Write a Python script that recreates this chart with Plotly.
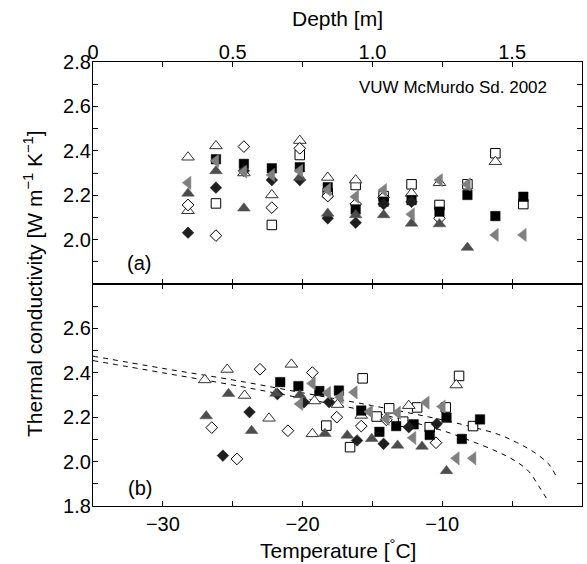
import plotly.graph_objects as go

# ---------------- Panel (a): conductivity vs depth ----------------
a_sq_fill_depth = [0.44, 0.54, 0.64, 0.74, 0.84, 0.94, 1.04, 1.14, 1.24, 1.34, 1.44, 1.54]
a_sq_fill_k     = [2.362, 2.341, 2.321, 2.326, 2.236, 2.136, 2.171, 2.178, 2.126, 2.201, 2.106, 2.193]

a_sq_open_depth = [0.44, 0.64, 0.74, 0.84, 0.94, 1.04, 1.14, 1.24, 1.34, 1.44, 1.54]
a_sq_open_k     = [2.163, 2.066, 2.381, 2.210, 2.246, 2.196, 2.249, 2.156, 2.249, 2.389, 2.160]

a_tri_open_depth = [0.34, 0.34, 0.44, 0.54, 0.64, 0.74, 0.84, 0.94, 1.14, 1.24, 1.44]
a_tri_open_k     = [2.371, 2.130, 2.422, 2.300, 2.201, 2.446, 2.280, 2.268, 2.208, 2.256, 2.351]

a_tri_fill_depth = [0.34, 0.44, 0.54, 0.74, 0.84, 0.94, 1.04, 1.14, 1.24, 1.34]
a_tri_fill_k     = [2.208, 2.309, 2.141, 2.280, 2.118, 2.111, 2.111, 2.073, 2.070, 1.964]

a_dia_fill_depth = [0.34, 0.44, 0.54, 0.64, 0.74, 0.84, 0.94, 1.04, 1.14]
a_dia_fill_k     = [2.031, 2.234, 2.310, 2.268, 2.268, 2.096, 2.076, 2.160, 2.170]

a_dia_open_depth = [0.34, 0.44, 0.54, 0.64, 0.74, 0.84, 0.94, 1.04, 1.24]
a_dia_open_k     = [2.156, 2.018, 2.419, 2.144, 2.411, 2.196, 2.160, 2.190, 2.096]

a_left_depth = [0.34, 0.44, 0.54, 0.64, 0.74, 0.84, 0.94, 1.04, 1.14, 1.24, 1.34, 1.44, 1.54]
a_left_k     = [2.256, 2.355, 2.306, 2.291, 2.310, 2.225, 2.193, 2.223, 2.114, 2.268, 2.249, 2.021, 2.021]

# ---------------- Panel (b): conductivity vs temperature ----------------
b_sq_fill_T = [-21.6, -20.3, -18.8, -17.4, -15.8, -14.5, -13.3, -12.05, -10.9, -9.7, -8.6, -7.3]
b_sq_fill_k = [2.358, 2.340, 2.318, 2.320, 2.230, 2.134, 2.160, 2.168, 2.120, 2.198, 2.102, 2.190]

b_sq_open_T = [-18.3, -16.6, -15.7, -14.7, -13.8, -12.8, -11.8, -10.9, -9.75, -8.8, -7.8]
b_sq_open_k = [2.162, 2.065, 2.375, 2.203, 2.240, 2.180, 2.244, 2.155, 2.244, 2.386, 2.160]

b_tri_open_T = [-27.0, -25.4, -24.15, -22.4, -20.8, -19.15, -19.3, -17.5, -15.8, -12.4, -9.0]
b_tri_open_k = [2.368, 2.415, 2.298, 2.195, 2.438, 2.273, 2.125, 2.257, 2.208, 2.252, 2.345]

b_tri_fill_T = [-26.9, -25.3, -23.65, -21.9, -20.2, -18.4, -16.8, -15.05, -13.2, -11.45, -9.7]
b_tri_fill_k = [2.205, 2.306, 2.139, 2.307, 2.300, 2.126, 2.118, 2.103, 2.073, 2.068, 1.958]

b_dia_fill_T = [-25.7, -23.8, -21.8, -19.9, -18.1, -16.1, -14.2, -12.4, -10.4]
b_dia_fill_k = [2.027, 2.223, 2.304, 2.267, 2.268, 2.095, 2.080, 2.155, 2.170]

b_dia_open_T = [-26.5, -24.7, -23.05, -21.05, -19.3, -17.55, -15.8, -14.0, -10.45]
b_dia_open_k = [2.153, 2.012, 2.416, 2.139, 2.401, 2.200, 2.160, 2.188, 2.085]

b_left_T = [-20.2, -19.3, -18.2, -17.3, -16.3, -15.2, -14.0, -13.2, -12.1, -11.15, -10.0, -9.0, -7.8]
b_left_k = [2.260, 2.352, 2.310, 2.290, 2.312, 2.225, 2.192, 2.220, 2.107, 2.266, 2.248, 2.015, 2.015]

# dashed model curves
curve1_T = [-35, -30, -25, -20, -15, -10, -8, -6, -4.7, -3.5, -2.4, -1.9]
curve1_k = [2.475, 2.420, 2.368, 2.310, 2.252, 2.188, 2.158, 2.123, 2.087, 2.045, 1.990, 1.940]
curve2_T = [-35, -30, -25, -20, -15, -10, -8, -6, -4.7, -3.8, -3.1, -2.4]
curve2_k = [2.455, 2.400, 2.345, 2.285, 2.222, 2.140, 2.094, 2.043, 2.000, 1.955, 1.890, 1.820]

# tick labels
temp_ticks = [-30, -20, -10, 0]
temp_text = ["\u221230", "\u221220", "\u221210", "0"]
depth_ticks = [0, 0.5, 1.0, 1.5]
depth_text = ["0", "0.5", "1.0", "1.5"]
k_ticks_a = [2.0, 2.2, 2.4, 2.6, 2.8]
k_ticks_b = [1.8, 2.0, 2.2, 2.4, 2.6]
k_text_a = ["2.0", "2.2", "2.4", "2.6", "2.8"]
k_text_b = ["1.8", "2.0", "2.2", "2.4", "2.6"]

FONT = "Liberation Sans, Arial, Helvetica, sans-serif"

# plot-area geometry in page pixels
L, R, T, B = 93, 582, 62, 506
W, H = 587, 564
PW, PH = R - L, B - T

def px(xp):
    return (xp - L) / PW

def py(yp):
    return (B - yp) / PH

styles = {
    "sq_open":  dict(symbol="square", size=9.5, color="white", line=dict(color="black", width=1)),
    "tri_open": dict(symbol="triangle-up", size=11, color="white", line=dict(color="#333333", width=1)),
    "dia_open": dict(symbol="diamond", size=9, color="white", line=dict(color="black", width=1)),
    "left":     dict(symbol="triangle-left", size=11.5, color="#808080", line=dict(color="#808080", width=0.5)),
    "tri_fill": dict(symbol="triangle-up", size=11, color="#4d4d4d", line=dict(color="#4d4d4d", width=0.5)),
    "dia_fill": dict(symbol="diamond", size=9, color="#1e1e1e", line=dict(color="#1e1e1e", width=0.5)),
    "sq_fill":  dict(symbol="square", size=9.5, color="black", line=dict(color="black", width=0.5)),
}

fig = go.Figure()

a_series = [
    ("sq_open", a_sq_open_depth, a_sq_open_k),
    ("tri_open", a_tri_open_depth, a_tri_open_k),
    ("dia_open", a_dia_open_depth, a_dia_open_k),
    ("sq_fill", a_sq_fill_depth, a_sq_fill_k),
    ("dia_fill", a_dia_fill_depth, a_dia_fill_k),
    ("tri_fill", a_tri_fill_depth, a_tri_fill_k),
    ("left", a_left_depth, a_left_k),
]
b_series = [
    ("sq_open", b_sq_open_T, b_sq_open_k),
    ("tri_open", b_tri_open_T, b_tri_open_k),
    ("dia_open", b_dia_open_T, b_dia_open_k),
    ("sq_fill", b_sq_fill_T, b_sq_fill_k),
    ("dia_fill", b_dia_fill_T, b_dia_fill_k),
    ("tri_fill", b_tri_fill_T, b_tri_fill_k),
    ("left", b_left_T, b_left_k),
]

for name, xs, ys in a_series:
    fig.add_trace(go.Scatter(x=xs, y=ys, mode="markers", marker=styles[name],
                             xaxis="x2", yaxis="y2", showlegend=False, hoverinfo="skip"))

for cx, cy in [(curve1_T, curve1_k), (curve2_T, curve2_k)]:
    fig.add_trace(go.Scatter(x=cx, y=cy, mode="lines",
                             line=dict(color="black", width=1, dash="5px,5px", shape="spline"),
                             xaxis="x", yaxis="y", showlegend=False, hoverinfo="skip"))

for name, xs, ys in b_series:
    fig.add_trace(go.Scatter(x=xs, y=ys, mode="markers", marker=styles[name],
                             xaxis="x", yaxis="y", showlegend=False, hoverinfo="skip"))

minor_common = dict(ticks="inside", ticklen=5, tickcolor="black", tickwidth=1, showgrid=False)
axis_common = dict(showline=True, linecolor="black", linewidth=1.2, mirror="ticks",
                   ticks="inside", ticklen=5, tickcolor="black", tickwidth=1,
                   showgrid=False, zeroline=False, automargin=False,
                   tickfont=dict(family=FONT, size=20, color="black"))

fig.update_layout(
    width=W, height=H,
    margin=dict(l=L, r=W - R, t=T, b=H - B),
    paper_bgcolor="white", plot_bgcolor="white",
    font=dict(family=FONT, color="black"),
    xaxis=dict(domain=[0, 1], range=[-35, 0], anchor="y",
               tickmode="array", tickvals=temp_ticks, ticktext=temp_text,
               minor=dict(tickmode="linear", tick0=0, dtick=5, **minor_common),
               **axis_common),
    yaxis=dict(domain=[0, 0.5], range=[1.8, 2.8], anchor="x",
               tickmode="array", tickvals=k_ticks_b, ticktext=k_text_b,
               minor=dict(tickmode="linear", tick0=1.8, dtick=0.1, **minor_common),
               ticklabelstandoff=-3, **axis_common),
    xaxis2=dict(domain=[0, 1], range=[0, 1.75], anchor="y2", side="top",
                tickmode="array", tickvals=depth_ticks, ticktext=depth_text,
                minor=dict(tickmode="linear", tick0=0, dtick=0.25, **minor_common),
                ticklabelstandoff=-6, **axis_common),
    yaxis2=dict(domain=[0.5, 1], range=[1.8, 2.8], anchor="x2",
                tickmode="array", tickvals=k_ticks_a, ticktext=k_text_a,
                minor=dict(tickmode="linear", tick0=1.8, dtick=0.1, **minor_common),
                ticklabelstandoff=-3, **axis_common),
    annotations=[
        dict(text="Depth [m]", xref="paper", yref="paper", x=0.5, y=py(19),
             showarrow=False, xanchor="center", yanchor="middle",
             font=dict(family=FONT, size=21, color="black")),
        dict(text="Temperature [<sup>\u00b0</sup>C]", xref="paper", yref="paper", x=0.5, y=py(549),
             showarrow=False, xanchor="center", yanchor="middle",
             font=dict(family=FONT, size=21, color="black")),
        dict(text="Thermal conductivity [W m<sup>\u22121</sup> K<sup>\u22121</sup>]",
             xref="paper", yref="paper", x=px(33), y=py(284), textangle=-90,
             showarrow=False, xanchor="center", yanchor="middle",
             font=dict(family=FONT, size=21, color="black")),
        dict(text="VUW McMurdo Sd. 2002", xref="paper", yref="paper",
             x=px(453), y=py(88), showarrow=False,
             xanchor="center", yanchor="middle", font=dict(family=FONT, size=17, color="black")),
        dict(text="(a)", xref="paper", yref="paper",
             x=px(139), y=py(263), showarrow=False,
             xanchor="center", yanchor="middle", font=dict(family=FONT, size=20, color="black")),
        dict(text="(b)", xref="paper", yref="paper",
             x=px(140), y=py(488), showarrow=False,
             xanchor="center", yanchor="middle", font=dict(family=FONT, size=20, color="black")),
    ],
)

fig.write_html("out.html", config={"displayModeBar": False},
               post_script="document.body.style.margin='0px';")
